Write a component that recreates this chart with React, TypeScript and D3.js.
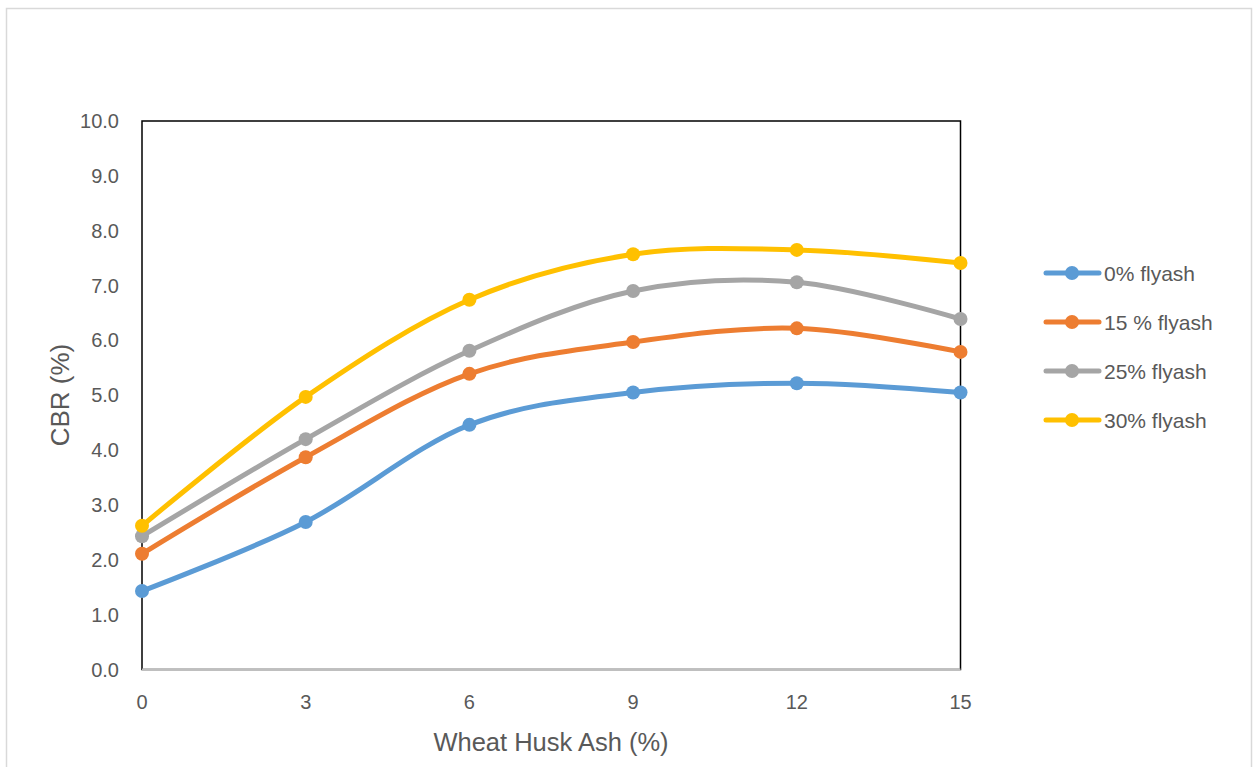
import React from "react";
import * as d3 from "d3";

const xValues = [0, 3, 6, 9, 12, 15];
const seriesNames = ["0% flyash", "15 % flyash", "25% flyash", "30% flyash"];
const seriesColors = ["#5B9BD5", "#ED7D31", "#A5A5A5", "#FFC000"];
const flyash0 = [1.43, 2.69, 4.46, 5.05, 5.22, 5.05];
const flyash15 = [2.11, 3.87, 5.39, 5.97, 6.22, 5.79];
const flyash25 = [2.43, 4.2, 5.81, 6.9, 7.06, 6.39];
const flyash30 = [2.62, 4.97, 6.74, 7.57, 7.65, 7.41];
const yTicks = [0, 1, 2, 3, 4, 5, 6, 7, 8, 9, 10];

const W = 1254;
const H = 767;
const font = "'Liberation Sans', Arial, sans-serif";

export default function App() {
  const x = d3.scaleLinear().domain([0, 15]).range([142, 960.5]);
  const y = d3.scaleLinear().domain([0, 10]).range([669.5, 121]);
  const allSeries = [flyash0, flyash15, flyash25, flyash30];

  const line = d3
    .line<number>()
    .x((_, i) => x(xValues[i]))
    .y((d) => y(d))
    .curve(d3.curveCardinal.tension(0));

  return (
    <svg
      width={W}
      height={H}
      style={{ position: "absolute", left: 0, top: 0, background: "#fff" }}
    >
      <rect x={6.5} y={8.5} width={1245} height={770} fill="#fff" stroke="#d9d9d9" strokeWidth={1.5} />

      {/* plot frame */}
      <rect x={x(0)} y={y(10)} width={x(15) - x(0)} height={y(0) - y(10)} fill="none" stroke="#000" strokeWidth={1.5} />
      <line x1={x(0)} x2={x(15)} y1={y(0)} y2={y(0)} stroke="#bfbfbf" strokeWidth={2} />

      {yTicks.map((t) => (
        <text
          key={`yt/${t}`}
          x={119}
          y={y(t)}
          textAnchor="end"
          dominantBaseline="central"
          fontFamily={font}
          fontSize={20}
          fill="#595959"
        >
          {t.toFixed(1)}
        </text>
      ))}
      {xValues.map((v) => (
        <text
          key={`xt/${v}`}
          x={x(v)}
          y={702}
          textAnchor="middle"
          dominantBaseline="central"
          fontFamily={font}
          fontSize={20}
          fill="#595959"
        >
          {v}
        </text>
      ))}

      <text
        x={551}
        y={742}
        textAnchor="middle"
        dominantBaseline="central"
        fontFamily={font}
        fontSize={25.5}
        fill="#595959"
      >
        Wheat Husk Ash (%)
      </text>
      <text
        transform={`translate(60,395) rotate(-90)`}
        textAnchor="middle"
        dominantBaseline="central"
        fontFamily={font}
        fontSize={26}
        fill="#595959"
      >
        CBR (%)
      </text>

      {allSeries.map((s, si) => (
        <g key={`s/${si}`}>
          <path d={line(s) ?? ""} fill="none" stroke={seriesColors[si]} strokeWidth={5} strokeLinecap="round" />
          {s.map((d, i) => (
            <circle key={`p/${si}/${i}`} cx={x(xValues[i])} cy={y(d)} r={7} fill={seriesColors[si]} />
          ))}
        </g>
      ))}

      {seriesNames.map((name, i) => {
        const ly = 273 + i * 49;
        return (
          <g key={`lg/${i}`}>
            <line x1={1046} x2={1099} y1={ly} y2={ly} stroke={seriesColors[i]} strokeWidth={5} strokeLinecap="round" />
            <circle cx={1072} cy={ly} r={7} fill={seriesColors[i]} />
            <text
              x={1104}
              y={ly}
              dominantBaseline="central"
              fontFamily={font}
              fontSize={21}
              fill="#595959"
            >
              {name}
            </text>
          </g>
        );
      })}
    </svg>
  );
}
